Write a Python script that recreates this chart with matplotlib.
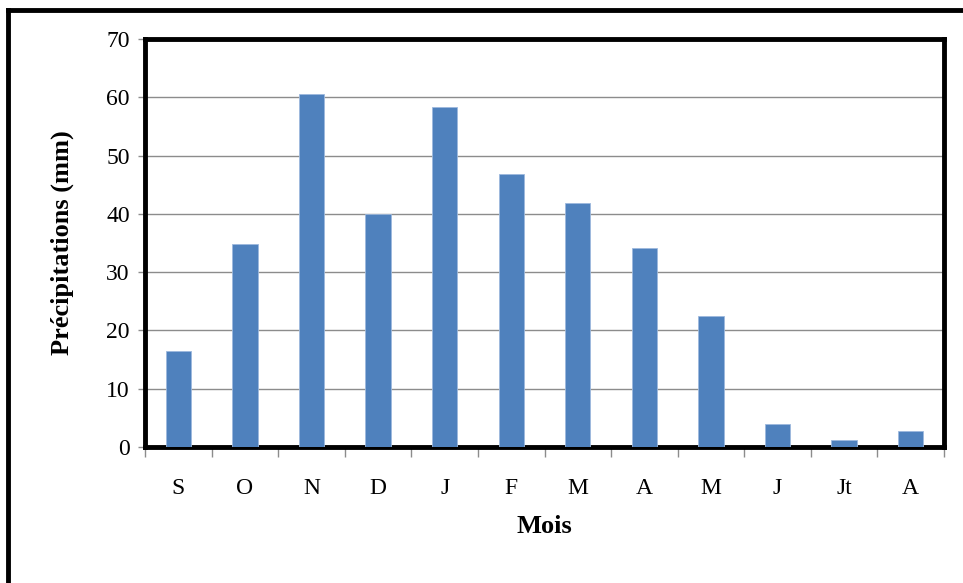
import matplotlib
matplotlib.use("Agg")
import matplotlib.pyplot as plt
from matplotlib.lines import Line2D
import numpy as np

months = ["S", "O", "N", "D", "J", "F", "M", "A", "M", "J", "Jt", "A"]
precip = [16.5, 34.8, 60.5, 40.0, 58.3, 46.8, 41.8, 34.1, 22.5, 3.9, 1.2, 2.7]
yticks = [0, 10, 20, 30, 40, 50, 60, 70]

plt.rcParams["font.family"] = ["Liberation Serif", "DejaVu Serif"]

fig = plt.figure(figsize=(9.63, 5.83), dpi=100)
ax = fig.add_axes([145 / 963, 1 - 447 / 583, (944 - 145) / 963, (447 - 39) / 583])

x = np.arange(len(months))
ax.bar(x, precip, width=0.38, color="#4F81BD", edgecolor="#9DB9DD", linewidth=0.6, zorder=3)

ax.set_xlim(-0.5, len(months) - 0.5)
ax.set_ylim(0, 70)
ax.set_yticks(yticks)
ax.yaxis.grid(True, color="#8C8C8C", linewidth=1.0, zorder=0)

# category labels centred on bars, tick marks between categories
ax.set_xticks(x)
ax.set_xticklabels(months, fontsize=17)
ax.set_xticks(np.arange(-0.5, len(months)), minor=True)
ax.tick_params(axis="x", which="major", length=0, pad=22)
ax.tick_params(axis="x", which="minor", length=7, width=1, color="#8C8C8C", direction="out")
ax.tick_params(axis="y", length=5, width=1, color="#8C8C8C", labelsize=17, pad=6)

for s in ax.spines.values():
    s.set_linewidth(3.5)
    s.set_color("black")

ax.set_ylabel("Précipitations (mm)", fontsize=19, fontweight="bold", labelpad=23)
ax.set_xlabel("Mois", fontsize=19, fontweight="bold", labelpad=12)

# outer frame (cut by the figure's right and bottom edges)
fig.add_artist(Line2D([8 / 963, 8 / 963], [0, 1 - 10 / 583], transform=fig.transFigure,
                      color="black", linewidth=3.5))
fig.add_artist(Line2D([8 / 963, 1], [1 - 10 / 583, 1 - 10 / 583], transform=fig.transFigure,
                      color="black", linewidth=3.5))

fig.savefig("out.png", dpi=100)
